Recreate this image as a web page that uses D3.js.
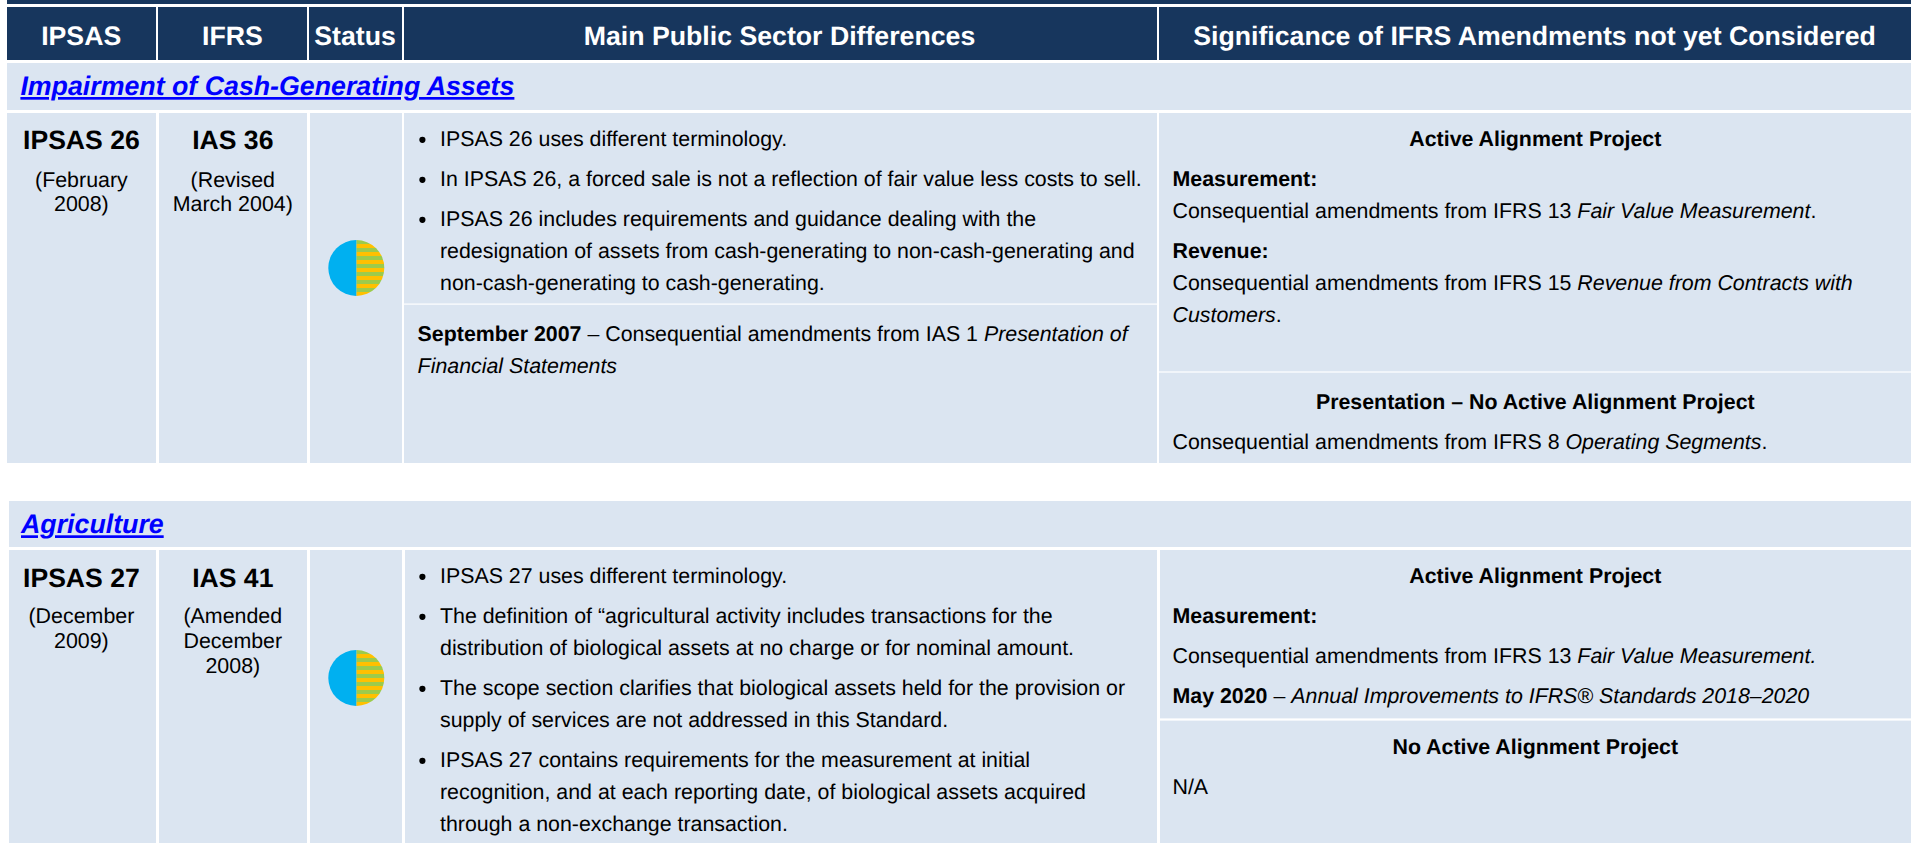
<!DOCTYPE html>
<html>
<head>
<meta charset="utf-8">
<script src="https://cdn.jsdelivr.net/npm/d3@7"></script>
<style>
  html, body { margin: 0; padding: 0; background: #fff; overflow: hidden; }
  svg { display: block; }
  text { font-family: "Liberation Sans", Arial, sans-serif; fill: #000; text-rendering: geometricPrecision; }
  .head { fill: #fff; font-weight: bold; font-size: 26.7px; text-anchor: middle; }
  .section { fill: #0000ff; font-weight: bold; font-style: italic; font-size: 26.75px; text-decoration: underline; }
  .code { font-weight: bold; font-size: 26.6px; text-anchor: middle; }
  .date { font-size: 21.4px; text-anchor: middle; }
  .body { font-size: 21.37px; }
  .b { font-weight: bold; }
  .i { font-style: italic; }
</style>
</head>
<body>
<div id="chart"></div>
<script>
var width = 1917
var height = 843
var tableRight = 1911

var navy = '#17365d'
var pale = '#dbe5f1'

var columns = ['ipsas', 'ifrs', 'status', 'main', 'significance']
var headers = ['IPSAS', 'IFRS', 'Status', 'Main Public Sector Differences', 'Significance of IFRS Amendments not yet Considered']
var sections = ['Impairment of Cash-Generating Assets', 'Agriculture']
var ipsasCodes = ['IPSAS 26', 'IPSAS 27']
var ipsasDates = [['(February', '2008)'], ['(December', '2009)']]
var ifrsCodes = ['IAS 36', 'IAS 41']
var ifrsDates = [['(Revised', 'March 2004)'], ['(Amended', 'December', '2008)']]

// status circle is half and half in both tables
var statusLabels = ['striped', 'solid']
var statusShares = [[50, 50], [50, 50]]

// paragraphs -> lines -> runs of [text, style]
var mainBullets = [
  [
    [[['IPSAS 26 uses different terminology.', '']]],
    [[['In IPSAS 26, a forced sale is not a reflection of fair value less costs to sell.', '']]],
    [
      [['IPSAS 26 includes requirements and guidance dealing with the', '']],
      [['redesignation of assets from cash-generating to non-cash-generating and', '']],
      [['non-cash-generating to cash-generating.', '']]
    ]
  ],
  [
    [[['IPSAS 27 uses different terminology.', '']]],
    [
      [['The definition of “agricultural activity includes transactions for the', '']],
      [['distribution of biological assets at no charge or for nominal amount.', '']]
    ],
    [
      [['The scope section clarifies that biological assets held for the provision or', '']],
      [['supply of services are not addressed in this Standard.', '']]
    ],
    [
      [['IPSAS 27 contains requirements for the measurement at initial', '']],
      [['recognition, and at each reporting date, of biological assets acquired', '']],
      [['through a non-exchange transaction.', '']]
    ]
  ]
]
var mainNotes = [
  [[
    [['September 2007', 'b'], [' – Consequential amendments from IAS 1 ', ''], ['Presentation of', 'i']],
    [['Financial Statements', 'i']]
  ]],
  []
]
var alignTitles = [
  ['Active Alignment Project', 'Presentation – No Active Alignment Project'],
  ['Active Alignment Project', 'No Active Alignment Project']
]
var alignTop = [
  [
    [[['Measurement:', 'b']], [['Consequential amendments from IFRS 13 ', ''], ['Fair Value Measurement', 'i'], ['.', '']]],
    [
      [['Revenue:', 'b']],
      [['Consequential amendments from IFRS 15 ', ''], ['Revenue from Contracts with', 'i']],
      [['Customers', 'i'], ['.', '']]
    ]
  ],
  [
    [[['Measurement:', 'b']]],
    [[['Consequential amendments from IFRS 13 ', ''], ['Fair Value Measurement.', 'i']]],
    [[['May 2020', 'b'], [' – ', ''], ['Annual Improvements to IFRS® Standards 2018–2020', 'i']]]
  ]
]
var alignBottom = [
  [[[['Consequential amendments from IFRS 8 ', ''], ['Operating Segments', 'i'], ['.', '']]]],
  [[[['N/A', '']]]]
]

var lineStep = 32
var paraStep = 40

var svg = d3.select('#chart').append('svg')
  .attr('width', width)
  .attr('height', height)

var defs = svg.append('defs')
var stripes = defs.append('pattern')
  .attr('id', 'stripes')
  .attr('patternUnits', 'userSpaceOnUse')
  .attr('width', 8)
  .attr('height', 8)
stripes.append('rect').attr('width', 8).attr('height', 8).attr('fill', '#ffc000')
stripes.append('rect').attr('y', 4).attr('width', 8).attr('height', 4).attr('fill', '#9ccb4b')

var colorScale = d3.scaleOrdinal().domain(statusLabels).range(['url(#stripes)', '#00b0f0'])
var pie = d3.pie().sort(null)
var arc = d3.arc().innerRadius(0).outerRadius(28)

// top bar + header row
svg.append('rect').attr('x', 7).attr('y', 0).attr('width', tableRight - 7).attr('height', 4).attr('fill', navy)

var headLeft = d3.scaleOrdinal().domain(columns).range([7, 158, 309, 404, 1159])
var headRight = d3.scaleOrdinal().domain(columns).range([156, 307, 402, 1157, tableRight])
var headMid = d3.scaleOrdinal().domain(columns).range([81.2, 232.5, 355, 779.5, 1534.5])

svg.selectAll('.head-cell')
  .data(columns)
  .enter()
  .append('rect')
  .attr('class', 'head-cell')
  .attr('x', d => headLeft(d))
  .attr('y', 7)
  .attr('width', d => headRight(d) - headLeft(d))
  .attr('height', 53)
  .attr('fill', navy)

svg.selectAll('.head')
  .data(columns)
  .enter()
  .append('text')
  .attr('class', 'head')
  .attr('x', d => headMid(d))
  .attr('y', 44.7)
  .text((d, i) => headers[i])

// one block per standard
var blocks = [
  { left: 7, secTop: 63, secBase: 95, bodyTop: 113, bodyBottom: 463, codeBase: 149.3, dateBase: 186.7, pieY: 268, mainBase: 146, rule: 304, noteBase: 340.7, alignBase: 146, split: 372, splitW: 1.2, titleBase: 408.7 },
  { left: 9, secTop: 501, secBase: 533.3, bodyTop: 550, bodyBottom: 843, codeBase: 586.7, dateBase: 623.3, pieY: 678, mainBase: 583, rule: null, noteBase: 0, alignBase: 583, split: 719.5, splitW: 2.2, titleBase: 753.7 }
]

function drawRuns(sel, line, x, y) {
  sel.append('text')
    .attr('class', 'body')
    .attr('x', x)
    .attr('y', y)
    .attr('xml:space', 'preserve')
    .style('white-space', 'pre')
    .selectAll('tspan')
    .data(line)
    .enter()
    .append('tspan')
    .attr('class', d => d[1])
    .text(d => d[0])
}

// returns the y just written, paragraphs sit paraStep apart, wrapped lines lineStep
function drawParas(sel, paras, x, y, bullet) {
  paras.forEach(function(para) {
    if (bullet) {
      sel.append('circle').attr('cx', 422.4).attr('cy', y - 6.2).attr('r', 3.1).attr('fill', '#000')
    }
    para.forEach(function(line, i) {
      if (i > 0) y += lineStep
      drawRuns(sel, line, x, y)
    })
    y += paraStep
  })
  return y - paraStep
}

blocks.forEach(function(b, k) {
  var g = svg.append('g')

  g.append('rect').attr('x', b.left).attr('y', b.secTop).attr('width', tableRight - b.left).attr('height', b.secTop === 63 ? 47 : 46).attr('fill', pale)
  g.append('text').attr('class', 'section').attr('x', k === 0 ? 20.4 : 21).attr('y', b.secBase).text(sections[k])

  var cellLeft = [b.left, 159, 310, 404 + k, 1159 + k]
  var cellRight = [156, 307, 402, 1157, tableRight]
  g.selectAll('.cell')
    .data(columns)
    .enter()
    .append('rect')
    .attr('class', 'cell')
    .attr('x', (d, i) => cellLeft[i])
    .attr('y', b.bodyTop)
    .attr('width', (d, i) => cellRight[i] - cellLeft[i])
    .attr('height', b.bodyBottom - b.bodyTop)
    .attr('fill', pale)

  g.append('text').attr('class', 'code').attr('x', 81.4).attr('y', b.codeBase).text(ipsasCodes[k])
  g.append('text').attr('class', 'code').attr('x', 232.8).attr('y', b.codeBase).text(ifrsCodes[k])

  ipsasDates[k].forEach(function(t, i) {
    g.append('text').attr('class', 'date').attr('x', 81.4).attr('y', b.dateBase + i * 24.7).text(t)
  })
  ifrsDates[k].forEach(function(t, i) {
    g.append('text').attr('class', 'date').attr('x', 232.8).attr('y', b.dateBase + i * 24.7).text(t)
  })

  g.append('g')
    .attr('transform', `translate(356.3,${b.pieY})`)
    .selectAll('path')
    .data(pie(statusShares[k]))
    .enter()
    .append('path')
    .attr('d', d => arc(d))
    .attr('fill', (d, i) => colorScale(statusLabels[i]))

  drawParas(g, mainBullets[k], 440, b.mainBase, true)
  if (b.rule) {
    g.append('rect').attr('x', 404).attr('y', b.rule - 0.5).attr('width', 753).attr('height', 1.2).attr('fill', '#fff')
    drawParas(g, mainNotes[k], 417.6, b.noteBase, false)
  }

  // significance column
  g.append('text').attr('class', 'body b').attr('x', 1535.3).attr('y', b.alignBase).attr('text-anchor', 'middle').text(alignTitles[k][0])
  drawParas(g, alignTop[k], 1172.5, b.alignBase + paraStep, false)
  g.append('rect').attr('x', 1159 + k).attr('y', b.split - b.splitW / 2).attr('width', tableRight - 1159 - k).attr('height', b.splitW).attr('fill', '#fff')
  g.append('text').attr('class', 'body b').attr('x', 1535.3).attr('y', b.titleBase).attr('text-anchor', 'middle').text(alignTitles[k][1])
  drawParas(g, alignBottom[k], 1172.5, b.titleBase + paraStep, false)
})
</script>
</body>
</html>
